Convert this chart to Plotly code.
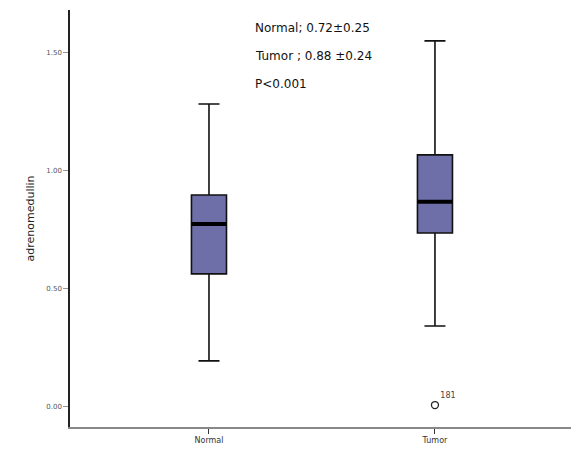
import plotly.graph_objects as go

categories = ["Normal", "Tumor"]
q1 = [0.564, 0.737]
median = [0.775, 0.869]
q3 = [0.898, 1.068]
lower_whisker = [0.195, 0.343]
upper_whisker = [1.284, 1.551]
outlier_group = [1]
outlier_value = [0.008]
outlier_label = ["181"]
y_tick_values = [0.0, 0.5, 1.0, 1.5]
y_tick_labels = ["0.00", "0.50", "1.00", "1.50"]
stats_lines = ["Normal; 0.72±0.25", "Tumor ; 0.88 ±0.24", "P<0.001"]

box_width = 0.155
fill = "#6E6FA8"

fig = go.Figure()
for i, c in enumerate(categories):
    fig.add_trace(go.Box(
        x=[i], q1=[q1[i]], median=[median[i]], q3=[q3[i]],
        lowerfence=[lower_whisker[i]], upperfence=[upper_whisker[i]],
        width=box_width, whiskerwidth=0.6, boxpoints=False,
        fillcolor=fill, line=dict(color="#111111", width=1.6),
        showlegend=False, hoverinfo="skip",
    ))
    fig.add_trace(go.Scatter(
        x=[i - box_width / 2, i + box_width / 2], y=[median[i], median[i]],
        mode="lines", line=dict(color="#000000", width=4),
        showlegend=False, hoverinfo="skip",
    ))

fig.add_trace(go.Scatter(
    x=outlier_group, y=outlier_value, mode="markers+text",
    marker=dict(symbol="circle-open", size=7, color="#222222", line=dict(width=1.3)),
    text=outlier_label, textposition="top right",
    textfont=dict(size=8, color="#444444", family="DejaVu Sans"),
    showlegend=False, hoverinfo="skip",
))

for k, line in enumerate(stats_lines):
    fig.add_annotation(
        xref="paper", yref="paper", x=(253 - 70) / 501, y=1 - (28 + 28 * k - 10) / 417,
        xanchor="left", yanchor="middle", text=line, showarrow=False,
        font=dict(size=12, color="#111111", family="DejaVu Sans"),
    )

fig.update_layout(
    width=571, height=450,
    margin=dict(l=70, r=0, t=10, b=23),
    paper_bgcolor="white", plot_bgcolor="white",
    font=dict(family="DejaVu Sans", color="#333333"),
    xaxis=dict(
        range=[-0.615, 1.602], tickvals=[0, 1], ticktext=categories,
        showgrid=False, zeroline=False, showline=True, linecolor="#888888", linewidth=1.5,
        ticks="outside", ticklen=5, tickcolor="#333333", tickfont=dict(size=8, color="#333333"),
    ),
    yaxis=dict(
        range=[-0.085, 1.682], tickvals=y_tick_values, ticktext=y_tick_labels,
        showgrid=False, zeroline=False, showline=True, linecolor="#222222", linewidth=1.5,
        ticks="outside", ticklen=5, tickcolor="#999999", tickfont=dict(size=7, color="#555555"),
        title=dict(text="adrenomedullin", font=dict(size=11, color="#222222"), standoff=9),
    ),
)

fig.write_html("out.html", config={"displayModeBar": False},
               post_script="document.body.style.margin='0px';")
